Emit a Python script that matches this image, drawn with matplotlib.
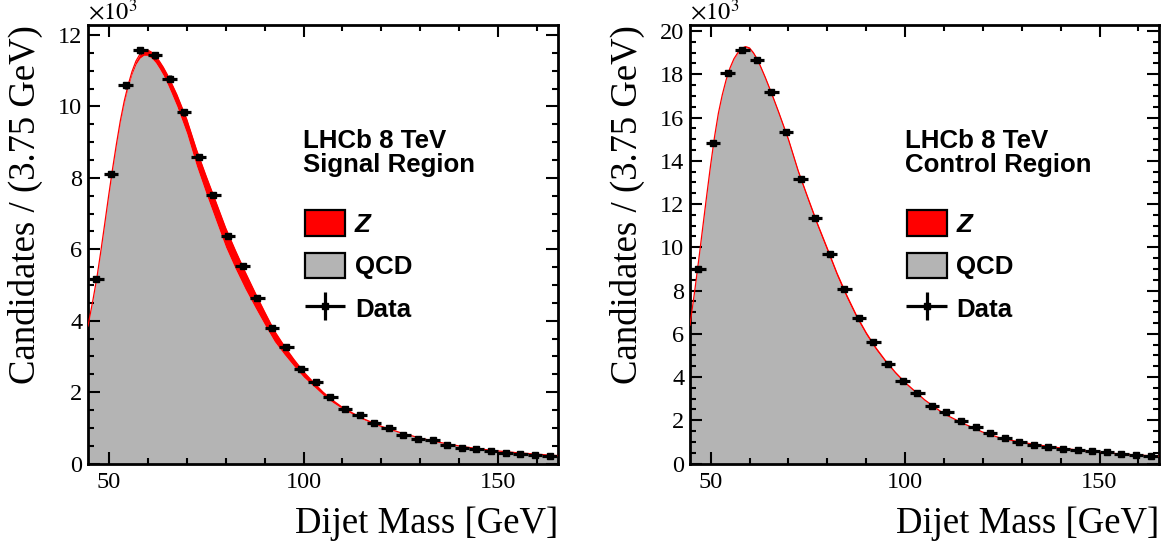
import numpy as np
import matplotlib
matplotlib.use("Agg")
import matplotlib.pyplot as plt
from matplotlib.patches import Patch
from matplotlib.legend_handler import HandlerErrorbar
from matplotlib.ticker import MultipleLocator

plt.rcParams['font.family'] = ['Liberation Serif', 'DejaVu Serif']
plt.rcParams['mathtext.fontset'] = 'stix'

# ---------------- data ----------------
bin_width = 3.75
bin_centers = [46.875 + 3.75 * i for i in range(32)]

# data points (x 10^3 candidates per bin)
sig_data = [5.16, 8.11, 10.59, 11.57, 11.43, 10.78, 9.83, 8.58, 7.53, 6.38,
            5.52, 4.63, 3.80, 3.25, 2.65, 2.29, 1.86, 1.54, 1.36, 1.13,
            0.99, 0.79, 0.69, 0.65, 0.51, 0.44, 0.41, 0.34, 0.30, 0.27,
            0.24, 0.22]
ctl_data = [8.98, 14.84, 18.08, 19.12, 18.66, 17.18, 15.33, 13.18, 11.37, 9.68,
            8.09, 6.75, 5.62, 4.59, 3.80, 3.26, 2.66, 2.39, 1.95, 1.69,
            1.42, 1.17, 1.00, 0.86, 0.77, 0.69, 0.61, 0.57, 0.51, 0.46,
            0.40, 0.35]

# fit curves
curve_x = [44.7, 46, 47, 48, 49, 50, 51, 52, 53, 54, 55, 56, 57, 58, 59, 60,
           61, 62, 63, 64, 65, 66, 67.5, 70, 72.5, 75, 77.5, 80, 82.5, 85,
           87.5, 90, 92.5, 95, 97.5, 100, 102.5, 105, 107.5, 110, 115, 120,
           125, 130, 135, 140, 145, 150, 155, 160, 165.3]
# signal region: total fit (QCD + Z) and Z component
sig_total = [3.85, 4.60, 5.22, 5.95, 6.72, 7.50, 8.25, 8.95, 9.60, 10.15,
             10.60, 10.98, 11.27, 11.46, 11.56, 11.58, 11.52, 11.42, 11.27, 11.10,
             10.90, 10.68, 10.33, 9.65, 8.80, 8.05, 7.33, 6.60, 5.97, 5.37,
             4.80, 4.25, 3.72, 3.30, 2.92, 2.57, 2.28, 2.00, 1.77, 1.57,
             1.27, 1.04, 0.86, 0.71, 0.59, 0.49, 0.41, 0.35, 0.30, 0.26,
             0.22]
sig_z = [0.0, 0.005, 0.01, 0.01, 0.015, 0.02, 0.025, 0.03, 0.04, 0.05,
         0.06, 0.07, 0.09, 0.11, 0.13, 0.15, 0.17, 0.19, 0.21, 0.23,
         0.26, 0.29, 0.33, 0.40, 0.46, 0.50, 0.53, 0.54, 0.52, 0.48,
         0.42, 0.36, 0.30, 0.24, 0.19, 0.15, 0.11, 0.08, 0.06, 0.04,
         0.02, 0.01, 0.005, 0.0, 0.0, 0.0, 0.0, 0.0, 0.0, 0.0,
         0.0]
# control region
ctl_total = [6.40, 8.10, 9.50, 10.95, 12.40, 13.80, 15.10, 16.20, 17.05, 17.75,
             18.30, 18.72, 19.00, 19.20, 19.28, 19.22, 19.00, 18.70, 18.30, 17.88,
             17.43, 16.97, 16.25, 15.00, 13.55, 12.30, 11.08, 9.95, 8.80, 7.78,
             6.85, 6.05, 5.35, 4.75, 4.22, 3.75, 3.35, 2.95, 2.62, 2.30,
             1.85, 1.45, 1.15, 0.98, 0.84, 0.72, 0.61, 0.52, 0.45, 0.39,
             0.34]
ctl_z = [0.0, 0.002, 0.004, 0.006, 0.008, 0.01, 0.012, 0.014, 0.016, 0.018,
         0.02, 0.024, 0.028, 0.032, 0.036, 0.04, 0.046, 0.052, 0.058, 0.064,
         0.07, 0.076, 0.085, 0.10, 0.115, 0.13, 0.138, 0.14, 0.136, 0.13,
         0.115, 0.10, 0.085, 0.07, 0.055, 0.04, 0.03, 0.02, 0.015, 0.01,
         0.0, 0.0, 0.0, 0.0, 0.0, 0.0, 0.0, 0.0, 0.0, 0.0,
         0.0]

region_names = ["Signal Region", "Control Region"]
legend_labels = ['Z', 'QCD', 'Data']
x_ticks = [50, 100, 150]

W, H = 1170, 546
fig = plt.figure(figsize=(W / 100, H / 100), dpi=100)

ax_bottom = 1 - 463.5 / H
ax_h = 438.5 / H
axes = [fig.add_axes([88 / W, ax_bottom, 470 / W, ax_h]),
        fig.add_axes([690 / W, ax_bottom, 469 / W, ax_h])]

panels = [(sig_data, sig_total, sig_z, 12.28, region_names[0]),
          (ctl_data, ctl_total, ctl_z, 20.28, region_names[1])]

grey = '#b4b4b4'
fs_txt = 18.6
bold_sans = dict(family='Liberation Sans', weight='bold', size=fs_txt)

for ax, (dat, tot, zc, ytop, region) in zip(axes, panels):
    cx = np.array(curve_x)
    tot = np.array(tot)
    zc = np.array(zc)
    qcd = tot - zc
    ax.fill_between(cx, 0, qcd, color=grey, lw=0, zorder=1)
    ax.fill_between(cx, qcd, tot, color='red', lw=0, zorder=2)
    ax.plot(cx, tot, color='red', lw=0.9, zorder=3)

    d = np.array(dat)
    yerr = np.sqrt(d * 1000.0) / 1000.0
    eb = ax.errorbar(bin_centers, d, xerr=bin_width / 2, yerr=yerr, fmt='s',
                     ms=4.0, color='black', ecolor='black', elinewidth=2.3,
                     capsize=0, zorder=5)

    ax.set_xlim(44.7, 165.3)
    ax.set_ylim(0, ytop)
    ax.set_xticks(x_ticks)
    ax.xaxis.set_minor_locator(MultipleLocator(10))
    ax.yaxis.set_major_locator(MultipleLocator(2))
    ax.yaxis.set_minor_locator(MultipleLocator(0.5))
    ax.tick_params(which='both', direction='in', top=True, right=True,
                   width=1.5, labelsize=17.5)
    ax.tick_params(which='major', length=8.6)
    ax.tick_params(which='minor', length=4.3)
    ax.tick_params(axis='x', which='major', pad=6)
    ax.tick_params(axis='y', which='major', pad=4)
    for s in ax.spines.values():
        s.set_linewidth(2.0)

    ax.set_ylabel('Candidates / (3.75 GeV)', fontsize=26.5, loc='top')
    ax.yaxis.set_label_coords(-0.096, 1.0)
    ax.set_xlabel('Dijet Mass [GeV]', fontsize=26.5, loc='right')
    ax.xaxis.set_label_coords(1.0, -0.097)

    ax.text(0.4574, 0.7188, 'LHCb 8 TeV', transform=ax.transAxes,
            va='baseline', ha='left', **bold_sans)
    ax.text(0.4574, 0.6645, region, transform=ax.transAxes,
            va='baseline', ha='left', **bold_sans)

    handles = [Patch(facecolor='red', edgecolor='black', lw=1.6, joinstyle='round'),
               Patch(facecolor=grey, edgecolor='black', lw=1.6, joinstyle='round'),
               eb]
    leg = ax.legend(handles, legend_labels, loc='upper left',
                    bbox_to_anchor=(0.4617, 0.577), frameon=False,
                    borderpad=0, borderaxespad=0, handlelength=1.55,
                    handleheight=1.12, handletextpad=0.38, labelspacing=0.63,
                    prop=dict(family='Liberation Sans', weight='bold', size=fs_txt),
                    handler_map={type(eb): HandlerErrorbar(xerr_size=0.78, yerr_size=0.54)})
    leg.get_texts()[0].set_style('italic')

    # exponent label
    pos = ax.get_position()
    fig.text(pos.x0, 1 - 20 / H, r'$\times10^{3}$', fontsize=17.5,
             ha='left', va='baseline')

fig.savefig('out.png', dpi=100)
